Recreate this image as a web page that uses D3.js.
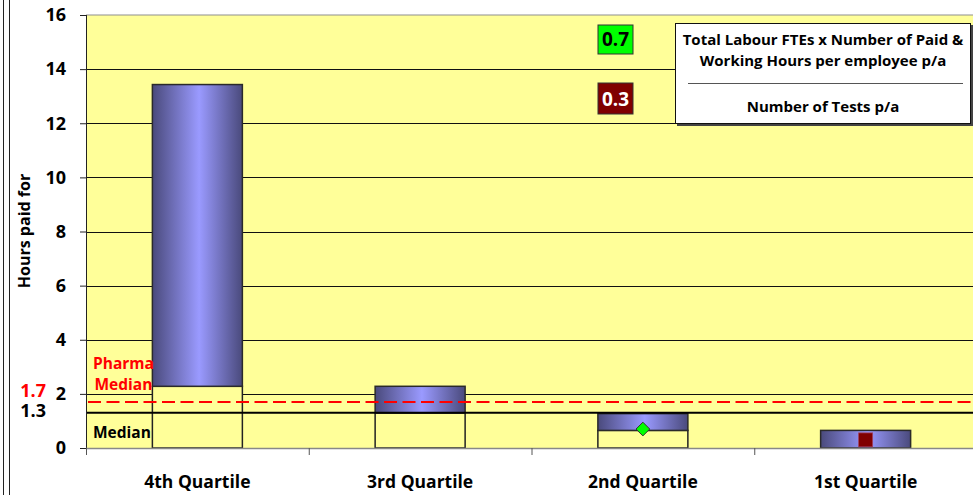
<!DOCTYPE html>
<html>
<head>
<meta charset="utf-8">
<script src="https://cdn.jsdelivr.net/npm/d3@7"></script>
<style>
  html, body { margin: 0; padding: 0; background: #ffffff; }
  svg { display: block; }
  text { font-family: "Open Sans", Lato, sans-serif; font-weight: bold; }
</style>
</head>
<body>
<svg id="chart" width="973" height="495"></svg>
<script>
// Quartile bands of hours paid for per test
const categories = ["4th Quartile", "3rd Quartile", "2nd Quartile", "1st Quartile"];
const lowerValues = [2.28, 1.3, 0.65, 0];
const upperValues = [13.43, 2.28, 1.27, 0.65];
const yTicks = [0, 2, 4, 6, 8, 10, 12, 14, 16];

// Reference lines
const medianValue = 1.3;
const pharmaMedianValue = 1.7;

// Highlighted results
const diamondCategory = "2nd Quartile";
const diamondValue = 0.7;
const squareCategory = "1st Quartile";
const squareValue = 0.3;

// Formula box
const formulaTop = ["Total Labour FTEs x Number of Paid &", "Working Hours per employee p/a"];
const formulaBottom = "Number of Tests p/a";

const svg = d3.select("#chart");

const plot = { left: 86, right: 977, top: 15, bottom: 448 };

const x = d3.scaleBand()
  .domain(categories)
  .range([plot.left, plot.right])
  .paddingInner(0.596)
  .paddingOuter(0.298);

const xEdges = d3.scaleLinear().domain([0, categories.length]).range([plot.left, plot.right]);

const y = d3.scaleLinear().domain([0, 16]).range([plot.bottom, plot.top]);

// outer double frame on the left
svg.append("line").attr("x1", 3.5).attr("x2", 3.5).attr("y1", 0).attr("y2", 495)
  .attr("stroke", "#222").attr("stroke-width", 1);
svg.append("line").attr("x1", 9.5).attr("x2", 9.5).attr("y1", 0).attr("y2", 495)
  .attr("stroke", "#222").attr("stroke-width", 1);

// plot background
svg.append("rect")
  .attr("x", plot.left).attr("y", plot.top)
  .attr("width", plot.right - plot.left).attr("height", plot.bottom - plot.top)
  .attr("fill", "#ffff99");

// top border of plot area
svg.append("line")
  .attr("x1", plot.left).attr("x2", plot.right)
  .attr("y1", y(16)).attr("y2", y(16))
  .attr("stroke", "#909090").attr("stroke-width", 1.2);

// horizontal gridlines
svg.append("g").selectAll("line")
  .data(yTicks.filter(d => d > 0 && d < 16))
  .join("line")
  .attr("x1", plot.left).attr("x2", plot.right)
  .attr("y1", d => Math.round(y(d)) + 0.5).attr("y2", d => Math.round(y(d)) + 0.5)
  .attr("stroke", "#111").attr("stroke-width", 1);

// gradient for the coloured part of each bar
const defs = svg.append("defs");
const grad = defs.append("linearGradient").attr("id", "barGrad")
  .attr("x1", "0%").attr("x2", "100%").attr("y1", "0%").attr("y2", "0%");
grad.append("stop").attr("offset", "0%").attr("stop-color", "#4a4a7c");
grad.append("stop").attr("offset", "52%").attr("stop-color", "#9a9aff");
grad.append("stop").attr("offset", "100%").attr("stop-color", "#4a4a7c");

// lower (uncoloured) part of each bar
const bars = svg.append("g");
bars.selectAll("rect.base")
  .data(categories.map((c, i) => ({ c, v: lowerValues[i] })).filter(d => d.v > 0))
  .join("rect")
  .attr("class", "base")
  .attr("x", d => x(d.c)).attr("width", x.bandwidth())
  .attr("y", d => y(d.v)).attr("height", d => y(0) - y(d.v))
  .attr("fill", "#ffff99").attr("stroke", "#222").attr("stroke-width", 1.5);

// coloured range part
bars.selectAll("rect.range")
  .data(categories.map((c, i) => ({ c, lo: lowerValues[i], hi: upperValues[i] })))
  .join("rect")
  .attr("class", "range")
  .attr("x", d => x(d.c)).attr("width", x.bandwidth())
  .attr("y", d => y(d.hi)).attr("height", d => y(d.lo) - y(d.hi))
  .attr("fill", "url(#barGrad)").attr("stroke", "#2a2a2a").attr("stroke-width", 1.5);

// median line
svg.append("line")
  .attr("x1", plot.left).attr("x2", plot.right)
  .attr("y1", y(medianValue)).attr("y2", y(medianValue))
  .attr("stroke", "#000").attr("stroke-width", 2);

// pharma median (dashed)
svg.append("line")
  .attr("x1", plot.left + 2).attr("x2", plot.right)
  .attr("y1", y(pharmaMedianValue)).attr("y2", y(pharmaMedianValue))
  .attr("stroke", "#ff0000").attr("stroke-width", 2.2)
  .attr("stroke-dasharray", "13,5.5");

// markers
const cx = c => x(c) + x.bandwidth() / 2;
svg.append("path")
  .attr("d", d3.symbol().type(d3.symbolDiamond2).size(120)())
  .attr("transform", `translate(${cx(diamondCategory)},${y(diamondValue)})`)
  .attr("fill", "#00ff00").attr("stroke", "#333").attr("stroke-width", 1);
svg.append("rect")
  .attr("x", cx(squareCategory) - 7).attr("y", y(squareValue) - 7)
  .attr("width", 14).attr("height", 14)
  .attr("fill", "#800000").attr("stroke", "#a04060").attr("stroke-width", 0.8);

// y axis
const yAxis = svg.append("g")
  .attr("transform", `translate(${plot.left},0)`)
  .call(d3.axisLeft(y).tickValues(yTicks).tickSize(6).tickPadding(14));
yAxis.select(".domain").attr("stroke", "#222").attr("d", `M0.5,${plot.top}V${plot.bottom + 7}`);
yAxis.selectAll(".tick line").attr("stroke", "#222");
yAxis.selectAll(".tick text")
  .attr("font-size", 18).attr("font-family", "'Open Sans', sans-serif").attr("font-weight", "bold")
  .attr("fill", "#000");

// x axis: boundary ticks
const xEdgeAxis = svg.append("g")
  .attr("transform", `translate(0,${plot.bottom})`)
  .call(d3.axisBottom(xEdges).tickValues(d3.range(0, categories.length + 1)).tickSize(7).tickFormat(""));
xEdgeAxis.select(".domain").attr("stroke", "#888").attr("stroke-width", 1.5).attr("d", `M${plot.left},0.5H${plot.right}`);
xEdgeAxis.selectAll(".tick line").attr("stroke", "#555");

// x axis: category labels
const xAxis = svg.append("g")
  .attr("transform", `translate(0,${plot.bottom})`)
  .call(d3.axisBottom(x).tickSize(0).tickPadding(28));
xAxis.select(".domain").remove();
xAxis.selectAll(".tick text")
  .attr("font-size", 17.5).attr("font-family", "'Open Sans', sans-serif").attr("font-weight", "bold")
  .attr("fill", "#000");

// y axis title
svg.append("text")
  .attr("transform", "translate(30,231) rotate(-90)")
  .attr("text-anchor", "middle")
  .attr("font-size", 16)
  .attr("fill", "#000")
  .text("Hours paid for");

// reference line value labels
svg.append("text").attr("x", 46).attr("y", 396.5).attr("text-anchor", "end")
  .attr("font-size", 18).attr("fill", "#ff0000").text(pharmaMedianValue.toFixed(1));
svg.append("text").attr("x", 46).attr("y", 416.5).attr("text-anchor", "end")
  .attr("font-size", 18).attr("fill", "#000").text(medianValue.toFixed(1));

// line labels inside plot
svg.append("text").attr("x", 93).attr("y", 368.5).attr("font-size", 15.5)
  .attr("fill", "#ff0000").text("Pharma");
svg.append("text").attr("x", 94.5).attr("y", 390).attr("font-size", 15.5)
  .attr("fill", "#ff0000").text("Median");
svg.append("text").attr("x", 93).attr("y", 438).attr("font-size", 15.5)
  .attr("fill", "#000").text("Median");

// value boxes
svg.append("rect").attr("x", 598).attr("y", 25).attr("width", 35).attr("height", 29)
  .attr("fill", "#00ff00").attr("stroke", "#333").attr("stroke-width", 1);
svg.append("text").attr("x", 615.5).attr("y", 46).attr("text-anchor", "middle")
  .attr("font-size", 19).attr("fill", "#000").text(diamondValue.toFixed(1));
svg.append("rect").attr("x", 598).attr("y", 83).attr("width", 35).attr("height", 31)
  .attr("fill", "#800000").attr("stroke", "#333").attr("stroke-width", 1);
svg.append("text").attr("x", 615.5).attr("y", 105.5).attr("text-anchor", "middle")
  .attr("font-size", 19).attr("fill", "#fff").text(squareValue.toFixed(1));

// formula box
svg.append("rect").attr("x", 677).attr("y", 25).attr("width", 296).attr("height", 101)
  .attr("fill", "#444");
svg.append("rect").attr("x", 675.5).attr("y", 23.5).attr("width", 295).attr("height", 100)
  .attr("fill", "#fff").attr("stroke", "#111").attr("stroke-width", 1);
const fx = 823;
svg.append("text").attr("x", fx).attr("y", 45).attr("text-anchor", "middle")
  .attr("font-size", 15).attr("fill", "#000").text(formulaTop[0]);
svg.append("text").attr("x", fx).attr("y", 66).attr("text-anchor", "middle")
  .attr("font-size", 15).attr("fill", "#000").text(formulaTop[1]);
svg.append("line").attr("x1", 688).attr("x2", 963).attr("y1", 83.5).attr("y2", 83.5)
  .attr("stroke", "#555").attr("stroke-width", 1);
svg.append("text").attr("x", fx).attr("y", 111.5).attr("text-anchor", "middle")
  .attr("font-size", 15).attr("fill", "#000").text(formulaBottom);
</script>
</body>
</html>
